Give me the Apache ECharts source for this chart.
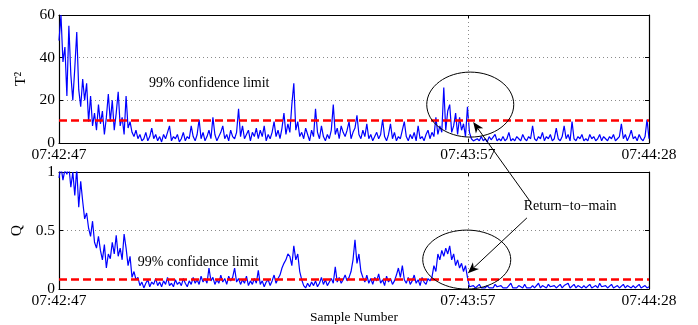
<!DOCTYPE html>
<html>
<head>
<meta charset="utf-8">
<script src="https://cdn.jsdelivr.net/npm/echarts@6/dist/echarts.min.js"></script>
<style>
  html, body { margin: 0; padding: 0; background: #fff; }
  #chart { width: 698px; height: 325px; }
</style>
</head>
<body>
<div id="chart"></div>
<script>
// time axis (seconds after 07:42:47)
const tickTimes = [0, 70, 101];
const tickLabels = ["07:42:47", "07:43:57", "07:44:28"];
const endTime = 101;

// T^2 statistic, one value per sample
const t2Values = [
  48, 60, 38, 45, 22, 55, 32, 20, 35, 52,
  25, 17, 30, 20, 28, 10, 22, 8, 14, 6,
  18, 9, 15, 4, 12, 23, 10, 20, 6, 14,
  24, 8, 12, 4, 22, 7, 10, 5, 3, 6,
  2, 4, 1, 2, 5, 1, 3, 7, 2, 4,
  1, 3, 0.5, 4, 2, 5, 8, 1, 3, 2,
  4, 0.5, 2, 5, 1, 3, 2, 8, 3, 1,
  4, 11, 2, 5, 1, 3, 6, 2, 12, 4,
  1, 3, 5, 8, 2, 4, 1, 6, 3, 2,
  5, 16, 3, 8, 2, 4, 6, 1, 5, 3,
  7, 2, 6, 3, 8, 1, 4, 2, 5, 10,
  3, 6, 2, 7, 14, 4, 9, 5, 18, 28,
  6, 10, 3, 5, 2, 7, 4, 1, 6, 3,
  16, 5, 2, 8, 3, 1, 4, 2, 6, 18,
  4, 7, 2, 8, 5, 3, 6, 10, 2, 5,
  7, 13, 4, 2, 6, 3, 9, 2, 4, 1,
  3, 5, 2, 4, 11, 3, 1, 4, 9, 2,
  5, 1, 3, 2, 6, 10, 3, 1, 4, 2,
  5, 1, 8, 2, 3, 1, 4, 6, 2, 5,
  3, 12, 4, 8, 5, 26, 6, 15, 18, 5,
  8, 14, 4, 12, 6, 9, 3, 17, 5, 2,
  1, 0.5, 2, 1, 3, 1, 2, 0.5, 3, 1.5,
  2, 4, 1, 2, 1, 3, 1, 2, 5, 1,
  2, 1, 3, 2, 1, 4, 2, 1, 3, 2,
  8, 2, 1, 3, 2, 5, 1, 3, 2, 4,
  1, 2, 7, 2, 1, 3, 8, 2, 4, 1,
  10, 2, 1, 3, 2, 4, 1, 2, 1, 4,
  2, 3, 1, 2, 4, 1, 3, 2, 1, 3,
  2, 4, 1, 2, 3, 9, 2, 4, 1, 3,
  6, 2, 3, 1, 4, 2, 1, 3, 11, 2
];

// Q statistic, one value per sample
const qValues = [
  0.95, 1.05, 0.93, 1.02, 0.98, 1.05, 0.87, 1.0, 0.8, 1.03,
  0.7, 0.92, 0.75, 0.6, 0.65, 0.52, 0.45, 0.58, 0.4, 0.35,
  0.45, 0.33, 0.25, 0.38, 0.18, 0.3, 0.26, 0.4, 0.3, 0.46,
  0.28, 0.35, 0.25, 0.47, 0.35, 0.2, 0.28, 0.1, 0.15, 0.08,
  0.1, 0.03, 0.06, 0.01, 0.05, 0.08, 0.02, 0.06, 0.04, 0.09,
  0.03, 0.06, 0.02, 0.07, 0.04, 0.1, 0.03, 0.05, 0.02, 0.08,
  0.04, 0.06, 0.03, 0.09, 0.05, 0.02, 0.07, 0.04, 0.1, 0.05,
  0.08, 0.04, 0.11, 0.06, 0.09, 0.05, 0.18, 0.07, 0.1, 0.04,
  0.08, 0.05, 0.12, 0.06, 0.09, 0.04, 0.11, 0.07, 0.1, 0.18,
  0.06, 0.09, 0.04, 0.08, 0.05, 0.11, 0.03, 0.07, 0.04, 0.09,
  0.05, 0.16, 0.04, 0.07, 0.02, 0.06, 0.08, 0.03, 0.07, 0.12,
  0.05, 0.09, 0.12, 0.18, 0.22, 0.25, 0.3, 0.28, 0.2, 0.37,
  0.25, 0.3, 0.15, 0.08, 0.03, 0.01, 0.05, 0.02, 0.06, 0.03,
  0.07, 0.02, 0.05, 0.1, 0.04, 0.08, 0.03, 0.06, 0.09, 0.05,
  0.19, 0.06, 0.1, 0.05, 0.08, 0.12, 0.07, 0.1, 0.15, 0.25,
  0.42, 0.22, 0.3, 0.15, 0.1, 0.06, 0.12, 0.05, 0.09, 0.04,
  0.1, 0.07, 0.13, 0.05, 0.08, 0.03, 0.11, 0.06, 0.09, 0.04,
  0.07, 0.12, 0.18, 0.1, 0.2, 0.08, 0.05, 0.1, 0.04, 0.07,
  0.12, 0.05, 0.08, 0.03, 0.1, 0.06, 0.04, 0.09, 0.07, 0.1,
  0.2, 0.15, 0.3, 0.25, 0.33, 0.28, 0.35, 0.3, 0.37, 0.25,
  0.3, 0.2, 0.25, 0.18, 0.22, 0.15, 0.2, 0.1, 0.02, 0.01,
  0.03, 0.01, 0.02, 0.04, 0.01, 0.02, 0.01, 0.03, 0.01, 0.02,
  0.01, 0.04, 0.02, 0.01, 0.03, 0.01, 0.02, 0.01, 0.03, 0.05,
  0.01, 0.02, 0.01, 0.03, 0.02, 0.01, 0.04, 0.01, 0.02, 0.01,
  0.03, 0.01, 0.02, 0.05, 0.01, 0.03, 0.02, 0.01, 0.04, 0.02,
  0.01, 0.03, 0.01, 0.02, 0.04, 0.01, 0.03, 0.02, 0.05, 0.01,
  0.02, 0.04, 0.01, 0.03, 0.02, 0.01, 0.03, 0.01, 0.02, 0.04,
  0.01, 0.02, 0.03, 0.01, 0.05, 0.02, 0.01, 0.03, 0.01, 0.02,
  0.04, 0.01, 0.02, 0.03, 0.01, 0.02, 0.04, 0.01, 0.03, 0.02,
  0.01, 0.03, 0.01, 0.02, 0.04, 0.01, 0.02, 0.03, 0.01, 0.02
];

// 99% confidence limits
const t2Limit = 10.5;
const qLimit = 0.08;

const serif = '"Liberation Serif", "Times New Roman", serif';

function toPoints(vals) {
  const step = endTime / (vals.length - 1);
  return vals.map((v, i) => [i * step, v]);
}

function fmtTime(v) {
  const k = tickTimes.indexOf(v);
  return k >= 0 ? tickLabels[k] : "";
}

const boxLine = { show: true, onZero: false, lineStyle: { color: "#000", width: 1.2 } };

function bottomAxis(gi, name) {
  return {
    type: "value", gridIndex: gi, min: 0, max: endTime,
    name: name, nameLocation: "middle", nameGap: 9,
    nameTextStyle: { fontFamily: serif, fontSize: 13.5, color: "#000", verticalAlign: "top" },
    axisLine: boxLine,
    axisTick: { show: true, inside: true, length: 4, customValues: tickTimes, lineStyle: { color: "#000" } },
    axisLabel: { customValues: tickTimes, formatter: fmtTime, fontFamily: serif, fontSize: 15.5, color: "#000", margin: 4 },
    splitLine: { show: false },
  };
}
function topAxis(gi) {
  return {
    type: "value", gridIndex: gi, position: "top", min: 0, max: endTime,
    axisLine: boxLine,
    axisTick: { show: true, inside: true, length: 4, customValues: tickTimes, lineStyle: { color: "#000" } },
    axisLabel: { show: false },
    splitLine: { show: false },
  };
}
function leftAxis(gi, max, interval, name, gap) {
  return {
    type: "value", gridIndex: gi, min: 0, max: max, interval: interval,
    name: name, nameLocation: "middle", nameGap: gap,
    nameTextStyle: { fontFamily: serif, fontSize: 15.5, color: "#000" },
    axisLine: boxLine,
    axisTick: { show: true, inside: true, length: 4, lineStyle: { color: "#000" } },
    axisLabel: { fontFamily: serif, fontSize: 15.5, color: "#000", margin: 4 },
    splitLine: { show: true, lineStyle: { color: "#8a8a8a", type: [1, 3], width: 1 } },
  };
}
function rightAxis(gi, max, interval) {
  return {
    type: "value", gridIndex: gi, position: "right", min: 0, max: max, interval: interval,
    axisLine: boxLine,
    axisTick: { show: true, inside: true, length: 4, lineStyle: { color: "#000" } },
    axisLabel: { show: false },
    splitLine: { show: false },
  };
}

function limitMarks(limit) {
  return {
    silent: true,
    symbol: ["none", "none"],
    label: { show: false },
    animation: false,
    data: [
      { xAxis: tickTimes[1], lineStyle: { color: "#8a8a8a", type: [1, 3], width: 1 } },
      { yAxis: limit, lineStyle: { color: "#ff0000", type: [8, 4], width: 2.5 } },
    ],
  };
}

let myChart = echarts.init(document.getElementById("chart"), null, { renderer: "canvas" });

let option = {
  animation: false,
  backgroundColor: "#fff",
  grid: [
    { left: 59, top: 15, width: 590, height: 128 },
    { left: 59, top: 172, width: 590, height: 125 },
  ],
  xAxis: [bottomAxis(0, ""), topAxis(0), bottomAxis(1, "Sample Number"), topAxis(1)],
  yAxis: [
    leftAxis(0, 60, 20, "T²", 29),
    rightAxis(0, 60, 20),
    leftAxis(1, 1, 0.5, "Q", 34),
    rightAxis(1, 1, 0.5),
  ],
  series: [
    {
      name: "T2", type: "line", xAxisIndex: 0, yAxisIndex: 0,
      data: toPoints(t2Values), showSymbol: false, symbol: "none",
      lineStyle: { color: "#0000ff", width: 1.2 },
      markLine: limitMarks(t2Limit),
    },
    {
      name: "Q", type: "line", xAxisIndex: 2, yAxisIndex: 2,
      data: toPoints(qValues), showSymbol: false, symbol: "none",
      lineStyle: { color: "#0000ff", width: 1.2 },
      markLine: limitMarks(qLimit),
    },
  ],
};
myChart.setOption(option);

// annotations, placed in data coordinates of each panel
function px(gi, pt) {
  return myChart.convertToPixel({ gridIndex: gi }, pt);
}
function arrow(tail, tip) {
  const dx = tip[0] - tail[0], dy = tip[1] - tail[1];
  const d = Math.hypot(dx, dy);
  const ux = dx / d, uy = dy / d, nx = -uy, ny = ux;
  const L = 11, W = 4.5, N = 8;
  const bx = tip[0] - ux * L, by = tip[1] - uy * L;
  const notch = [tip[0] - ux * N, tip[1] - uy * N];
  return [
    { type: "line", z: 100, shape: { x1: tail[0], y1: tail[1], x2: notch[0], y2: notch[1] }, style: { stroke: "#000", lineWidth: 1 } },
    { type: "polygon", z: 100, shape: { points: [tip, [bx + nx * W, by + ny * W], notch, [bx - nx * W, by - ny * W]] }, style: { fill: "#000" } },
  ];
}
function label(pt, text, align) {
  return {
    type: "text", z: 100, x: pt[0], y: pt[1],
    style: { text: text, font: "14px " + serif, fill: "#000", align: align, textAlign: align, verticalAlign: "middle", textVerticalAlign: "middle" },
  };
}

const c1 = px(0, [70.4, 18]);
const c2 = px(1, [69.8, 0.252]);
const tip1 = px(0, [70.9, 9.84]);
const tip2 = px(1, [70.0, 0.136]);
const tail1 = px(1, [80.6, 0.752]);
const tail2 = px(1, [80.1, 0.608]);

let graphics = [
  { type: "ellipse", z: 100, shape: { cx: c1[0], cy: c1[1], rx: 43.5, ry: 32.5 }, style: { fill: "none", stroke: "#000", lineWidth: 1 } },
  { type: "ellipse", z: 100, shape: { cx: c2[0], cy: c2[1], rx: 44, ry: 29.5 }, style: { fill: "none", stroke: "#000", lineWidth: 1 } },
  label(px(0, [15.4, 28.1]), "99% confidence limit", "left"),
  label(px(1, [13.5, 0.232]), "99% confidence limit", "left"),
  label(px(1, [87.5, 0.704]), "Return\u2212to\u2212main", "center"),
]
  .concat(arrow(tail1, tip1))
  .concat(arrow(tail2, tip2));

myChart.setOption({ graphic: graphics });
</script>
</body>
</html>
